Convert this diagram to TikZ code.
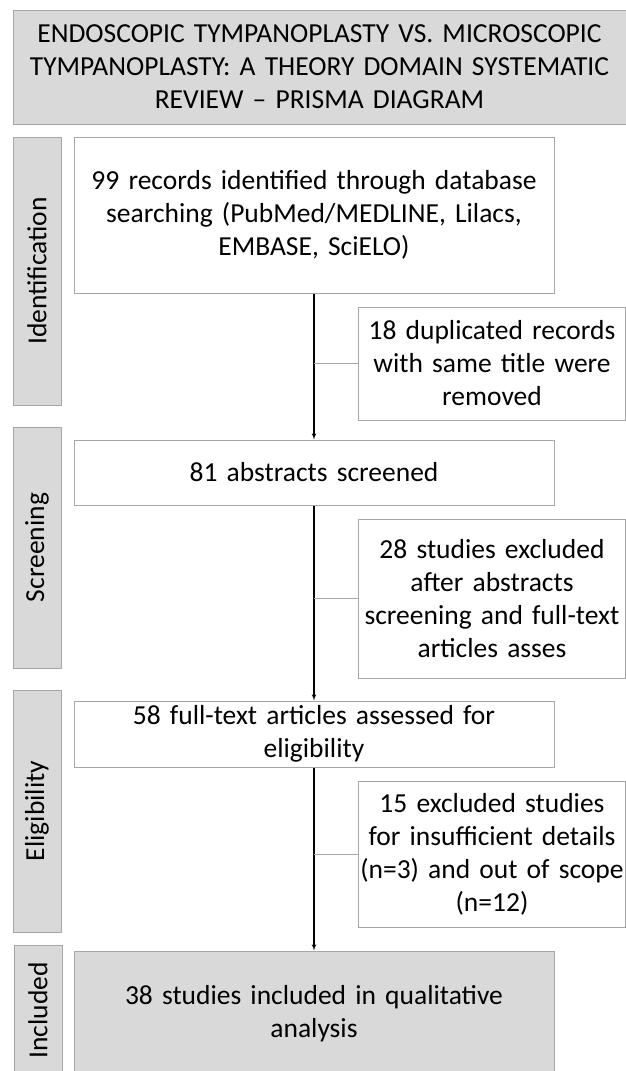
\documentclass[tikz,border=0pt]{standalone}
\usepackage{fontspec}
\setmainfont{Carlito}
\usetikzlibrary{positioning,arrows}

\definecolor{edgegray}{RGB}{166,166,166}
\definecolor{panelgray}{RGB}{217,217,217}

\tikzset{
  headbox/.style={rectangle, draw=edgegray, fill=panelgray, line width=1pt, text width=605pt, text centered, font=\fontsize{27.5}{33}\selectfont},
  stepbox/.style={rectangle, draw=edgegray, fill=white, line width=1pt, minimum width=480pt, text width=472pt, text centered, font=\fontsize{27.5}{33}\selectfont},
  finalbox/.style={stepbox, fill=panelgray},
  sidebox/.style={rectangle, draw=edgegray, fill=white, line width=1pt, minimum width=267pt, text width=264pt, inner xsep=1pt, text centered, font=\fontsize{27.5}{33}\selectfont},
  phase/.style={rectangle, draw=edgegray, fill=panelgray, line width=1pt, rotate=90, minimum height=48pt, inner sep=0pt, font=\fontsize{27.5}{33}\selectfont},
  flow/.style={draw, black, line width=1.1pt, -latex'},
  branch/.style={draw, edgegray, line width=0.8pt}
}

\begin{document}
\begin{tikzpicture}[x=1pt, y=1pt]
	\useasboundingbox (0,0) rectangle (626,-1071);
	
	\node[headbox, minimum width=613pt, minimum height=114pt] (title) at (319.5,-67) {ENDOSCOPIC TYMPANOPLASTY VS. MICROSCOPIC\\TYMPANOPLASTY: A THEORY DOMAIN SYSTEMATIC\\REVIEW -- PRISMA DIAGRAM};
	
	% main column
	\node[stepbox, minimum height=156pt] (found) at (314,-215) {99 records identified through database\\searching (PubMed/MEDLINE, Lilacs,\\EMBASE, SciELO)};
	
	\node[stepbox, below of=found, node distance=257.5pt, minimum height=65pt] (screened) {81 abstracts screened};
	
	\node[stepbox, below of=screened, node distance=261.5pt, minimum height=66pt] (assessed) {58 full-text articles assessed for\\eligibility};
	
	\node[finalbox, below of=assessed, node distance=280pt, minimum height=126pt] (kept) {38 studies included in qualitative\\analysis};
	
	% exclusions
	\node[sidebox, minimum height=113pt] (dupl) at (492,-363.5) {18 duplicated records\\with same title were\\removed};
	
	\node[sidebox, minimum height=159pt] (excl) at (492,-598.5) {28 studies excluded\\after abstracts\\screening and full-text\\articles asses};
	
	\node[sidebox, minimum height=146pt] (scope) at (492,-854) {15 excluded studies\\for insufficient details\\(n=3) and out of scope\\(n=12)};
	
	% phase labels
	\node[phase, minimum width=268pt] (lident) at (37,-271) {Identification};
	\node[phase, minimum width=241pt] (lscreen) at (37,-547.5) {Screening};
	\node[phase, minimum width=242pt] (lelig) at (37,-811) {Eligibility};
	\node[phase, minimum width=131pt] (lincl) at (38,-1010.5) {Included};
	
	\path [flow] (found) -- (screened);
	\path [flow] (screened) -- (assessed);
	\path [flow] (assessed) -- (kept);
	\path [branch] (dupl.west) -- (dupl.west -| found.south);
	\path [branch] (excl.west) -- (excl.west -| found.south);
	\path [branch] (scope.west) -- (scope.west -| found.south);
\end{tikzpicture}
\end{document}
